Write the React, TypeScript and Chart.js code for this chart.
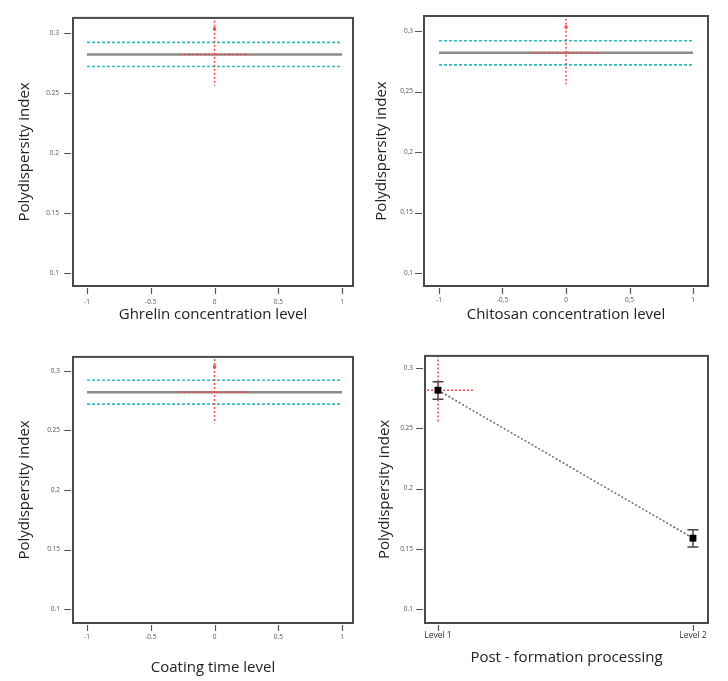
import React, { useEffect, useRef } from "react";
import { Chart, registerables } from "chart.js";

Chart.register(...registerables);
Chart.defaults.font.family = "'Open Sans', 'DejaVu Sans', sans-serif";

// ---------- data ----------
const yTickValues = [0.1, 0.15, 0.2, 0.25, 0.3];
const yTickLabelsDot = ["0.1", "0.15", "0.2", "0.25", "0.3"];
const yTickLabelsComma = ["0,1", "0,15", "0,2", "0,25", "0,3"];
const codedTickValues = [-1, -0.5, 0, 0.5, 1];
const codedTickLabelsDot = ["-1", "-0.5", "0", "0.5", "1"];
const codedTickLabelsComma = ["-1", "-0,5", "0", "0,5", "1"];

const codedLevels = [-1, 1];
const predictedPDI = [0.282, 0.282];
const upperCI = [0.292, 0.292];
const lowerCI = [0.272, 0.272];
const currentSetting = 0;
const currentPDI = 0.282;
const currentObserved = 0.3033;
const crosshairHigh = 0.33;
const crosshairLow = 0.256;
const crosshairHalfWidth = 0.27;

const postCategories = ["Level 1", "Level 2"];
const postLevelValues = [1, 2];
const postMeans = [0.2814, 0.159];
const postLow = [0.274, 0.1517];
const postHigh = [0.2885, 0.166];
const postCrosshairLow = 0.255;
const postCrosshairHalfWidth = 0.137;

// ---------- layout specs ----------
type Spec = {
  key: string;
  left: number;
  top: number;
  w: number;
  h: number;
  area: { l: number; t: number; r: number; b: number };
  xMin: number;
  xMax: number;
  yMin: number;
  yMax: number;
  xTitle: string;
  comma: boolean;
  yTickPad: number;
  xTickPad: number;
  xTitlePad: number;
  yTitlePad: number;
  kind: "coded" | "category";
};

const panels: Spec[] = [
  {
    key: "ghrelin", left: 0, top: 0, w: 360, h: 340,
    area: { l: 73, t: 16, r: 353, b: 286 },
    xMin: -1.11, xMax: 1.086, yMin: 0.0893, yMax: 0.3124,
    xTitle: "Ghrelin concentration level", comma: false,
    yTickPad: 14, xTickPad: 12, xTitlePad: 16, yTitlePad: 16, kind: "coded",
  },
  {
    key: "chitosan", left: 360, top: 0, w: 368, h: 340,
    area: { l: 64, t: 16, r: 348, b: 286 },
    xMin: -1.118, xMax: 1.118, yMin: 0.0893, yMax: 0.3124,
    xTitle: "Chitosan concentration level", comma: true,
    yTickPad: 11, xTickPad: 10, xTitlePad: 16, yTitlePad: 13, kind: "coded",
  },
  {
    key: "coating", left: 0, top: 340, w: 360, h: 341,
    area: { l: 73, t: 13, r: 353, b: 283 },
    xMin: -1.11, xMax: 1.086, yMin: 0.0884, yMax: 0.3116,
    xTitle: "Coating time level", comma: false,
    yTickPad: 13, xTickPad: 10, xTitlePad: 4, yTitlePad: 16, kind: "coded",
  },
  {
    key: "post", left: 360, top: 340, w: 368, h: 341,
    area: { l: 65, t: 13, r: 348, b: 283 },
    xMin: 0.949, xMax: 2.059, yMin: 0.0888, yMax: 0.3098,
    xTitle: "Post - formation processing", comma: false,
    yTickPad: 12, xTickPad: 7, xTitlePad: 14, yTitlePad: 16, kind: "category",
  },
];

const xy = (xs: number[], ys: number[]) => xs.map((x, i) => ({ x, y: ys[i] }));

const framePlugin = {
  id: "frame",
  afterDatasetsDraw(chart: any) {
    const { ctx, chartArea: a, scales } = chart;
    ctx.save();
    ctx.strokeStyle = "#4a4a4a";
    ctx.lineWidth = 2;
    ctx.strokeRect(a.left, a.top, a.right - a.left, a.bottom - a.top);
    ctx.lineWidth = 1.2;
    ctx.strokeStyle = "#555";
    ctx.beginPath();
    scales.y.ticks.forEach((t: any) => {
      const py = Math.round(scales.y.getPixelForValue(t.value)) + 0.5;
      ctx.moveTo(a.left - 9, py);
      ctx.lineTo(a.left - 2, py);
    });
    scales.x.ticks.forEach((t: any) => {
      const px = Math.round(scales.x.getPixelForValue(t.value)) + 0.5;
      ctx.moveTo(px, a.bottom + 2);
      ctx.lineTo(px, a.bottom + 8);
    });
    ctx.stroke();
    ctx.restore();
  },
};

const errorBarPlugin = {
  id: "errorBars",
  beforeDatasetsDraw(chart: any) {
    const { ctx, scales } = chart;
    ctx.save();
    ctx.strokeStyle = "#444";
    ctx.lineWidth = 1.5;
    postLevelValues.forEach((xv, i) => {
      const px = scales.x.getPixelForValue(xv);
      const pLow = scales.y.getPixelForValue(postLow[i]);
      const pHigh = scales.y.getPixelForValue(postHigh[i]);
      ctx.beginPath();
      ctx.moveTo(px, pLow);
      ctx.lineTo(px, pHigh);
      ctx.moveTo(px - 5.5, pLow);
      ctx.lineTo(px + 5.5, pLow);
      ctx.moveTo(px - 5.5, pHigh);
      ctx.lineTo(px + 5.5, pHigh);
      ctx.stroke();
    });
    ctx.restore();
  },
};

function buildDatasets(spec: Spec): any[] {
  const red = "#ff4545";
  if (spec.kind === "coded") {
    return [
      {
        data: [{ x: currentSetting, y: currentObserved }],
        showLine: false, pointStyle: "rect", pointRadius: 2.2,
        pointBackgroundColor: red, pointBorderColor: red, pointBorderWidth: 0, order: 0,
      },
      {
        data: [
          { x: currentSetting - crosshairHalfWidth, y: currentPDI },
          { x: currentSetting + crosshairHalfWidth, y: currentPDI },
        ],
        showLine: true, borderColor: red, borderWidth: 1.5, borderDash: [2, 2],
        pointRadius: 0, order: 1,
      },
      {
        data: [
          { x: currentSetting, y: crosshairHigh },
          { x: currentSetting, y: crosshairLow },
        ],
        showLine: true, borderColor: red, borderWidth: 1.5, borderDash: [2, 2],
        pointRadius: 0, order: 1,
      },
      {
        data: xy(codedLevels, upperCI),
        showLine: true, borderColor: "#2fbcbc", borderWidth: 1.6, borderDash: [3, 2],
        pointRadius: 0, order: 2,
      },
      {
        data: xy(codedLevels, lowerCI),
        showLine: true, borderColor: "#2fbcbc", borderWidth: 1.6, borderDash: [3, 2],
        pointRadius: 0, order: 2,
      },
      {
        data: xy(codedLevels, predictedPDI),
        showLine: true, borderColor: "#8c8c8c", borderWidth: 2.5,
        pointRadius: 0, order: 3,
      },
    ];
  }
  return [
    {
      data: xy(postLevelValues, postMeans),
      showLine: true, borderColor: "#6a6a6a", borderWidth: 1.5, borderDash: [2, 2],
      pointStyle: "rect", pointRadius: 4.5, pointBackgroundColor: "#000",
      pointBorderColor: "#000", pointBorderWidth: 0.5, order: 0,
    },
    {
      data: [
        { x: postLevelValues[0] - postCrosshairHalfWidth, y: postMeans[0] },
        { x: postLevelValues[0] + postCrosshairHalfWidth, y: postMeans[0] },
      ],
      showLine: true, borderColor: red, borderWidth: 1.5, borderDash: [2, 2],
      pointRadius: 0, order: 1,
    },
    {
      data: [
        { x: postLevelValues[0], y: crosshairHigh },
        { x: postLevelValues[0], y: postCrosshairLow },
      ],
      showLine: true, borderColor: red, borderWidth: 1.5, borderDash: [2, 2],
      pointRadius: 0, order: 1,
    },
  ];
}

function Panel({ spec }: { spec: Spec }) {
  const ref = useRef<HTMLCanvasElement | null>(null);
  useEffect(() => {
    if (!ref.current) return;
    const yLabels = spec.comma ? yTickLabelsComma : yTickLabelsDot;
    const xValues = spec.kind === "coded" ? codedTickValues : postLevelValues;
    const xLabels =
      spec.kind === "coded"
        ? spec.comma
          ? codedTickLabelsComma
          : codedTickLabelsDot
        : postCategories;
    const plugins: any[] = [framePlugin];
    if (spec.kind === "category") plugins.push(errorBarPlugin);
    const chart = new Chart(ref.current, {
      type: "scatter",
      data: { datasets: buildDatasets(spec) },
      plugins,
      options: {
        responsive: false,
        animation: false,
        devicePixelRatio: 1,
        layout: {
          padding: { left: 0, top: spec.area.t, right: spec.w - spec.area.r, bottom: 0 },
        },
        plugins: { legend: { display: false }, tooltip: { enabled: false } },
        scales: {
          x: {
            type: "linear",
            min: spec.xMin,
            max: spec.xMax,
            grid: { display: false, drawTicks: false },
            border: { display: false },
            afterFit: (s: any) => {
              s.height = spec.h - spec.area.b;
            },
            afterBuildTicks: (s: any) => {
              s.ticks = xValues.map((v) => ({ value: v }));
            },
            ticks: {
              autoSkip: false,
              maxRotation: 0,
              padding: spec.xTickPad,
              color: spec.kind === "coded" ? "#555" : "#333",
              font: { size: spec.kind === "coded" ? 6.5 : 8.5 },
              callback: (_v: any, i: number) => xLabels[i],
            },
            title: {
              display: true,
              text: spec.xTitle,
              color: "#222",
              font: { size: 15 },
              padding: { top: 0, bottom: spec.xTitlePad },
            },
          },
          y: {
            type: "linear",
            min: spec.yMin,
            max: spec.yMax,
            grid: { display: false, drawTicks: false },
            border: { display: false },
            afterFit: (s: any) => {
              s.width = spec.area.l;
            },
            afterBuildTicks: (s: any) => {
              s.ticks = yTickValues.map((v) => ({ value: v }));
            },
            ticks: {
              autoSkip: false,
              padding: spec.yTickPad,
              color: "#555",
              font: { size: 6.5 },
              callback: (_v: any, i: number) => yLabels[i],
            },
            title: {
              display: true,
              text: "Polydispersity index",
              color: "#222",
              font: { size: 15 },
              padding: { top: spec.yTitlePad, bottom: 0 },
            },
          },
        },
      } as any,
    });
    return () => chart.destroy();
  }, [spec]);
  return (
    <canvas
      ref={ref}
      width={spec.w}
      height={spec.h}
      style={{ position: "absolute", left: spec.left, top: spec.top, display: "block" }}
    />
  );
}

export default function App() {
  return (
    <div
      style={{
        position: "absolute",
        left: 0,
        top: 0,
        width: 728,
        height: 681,
        background: "#fff",
        overflow: "hidden",
      }}
    >
      {panels.map((p) => (
        <Panel key={p.key} spec={p} />
      ))}
    </div>
  );
}
